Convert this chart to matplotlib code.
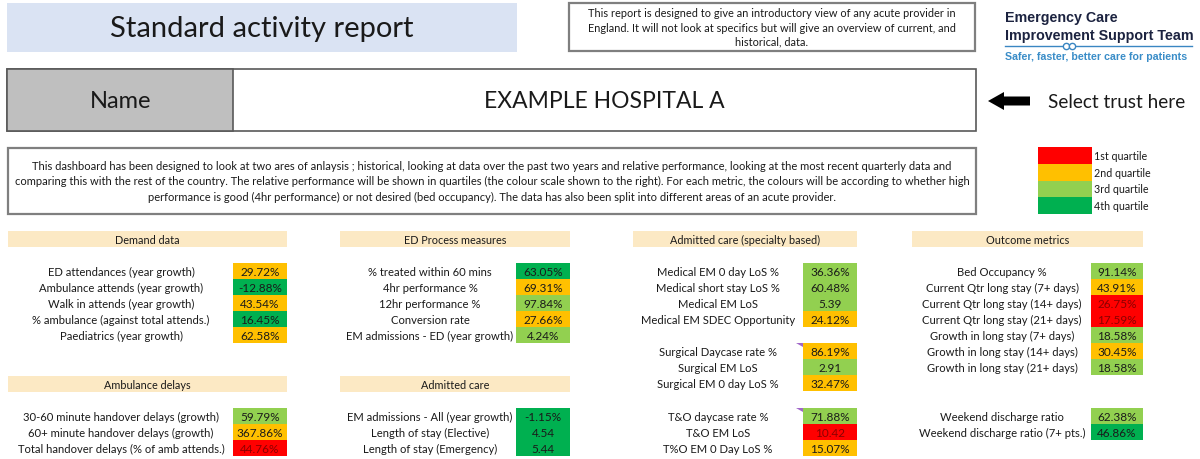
import matplotlib.pyplot as plt
from matplotlib.patches import Rectangle, Polygon

plt.rcParams['font.family'] = ['Lato', 'DejaVu Sans']

# quartile colours (1st .. 4th)
q_colors = {1: '#FF0000', 2: '#FFC000', 3: '#92D050', 4: '#00B050'}
q_labels = ['1st quartile', '2nd quartile', '3rd quartile', '4th quartile']

# ---- data ----
demand_labels = ['ED attendances (year growth)', 'Ambulance attends (year growth)',
                 'Walk in attends (year growth)', '% ambulance (against total attends.)',
                 'Paediatrics (year growth)']
demand_values = ['29.72%', '-12.88%', '43.54%', '16.45%', '62.58%']
demand_q = [2, 4, 2, 4, 2]

amb_labels = ['30-60 minute handover delays (growth)', '60+ minute handover delays (growth)',
              'Total handover delays (% of amb attends.)']
amb_values = ['59.79%', '367.86%', '44.76%']
amb_q = [3, 2, 1]

edp_labels = ['% treated within 60 mins', '4hr performance %', '12hr performance %',
              'Conversion rate', 'EM admissions - ED (year growth)']
edp_values = ['63.05%', '69.31%', '97.84%', '27.66%', '4.24%']
edp_q = [4, 2, 3, 2, 3]

adm_labels = ['EM admissions - All (year growth)', 'Length of stay (Elective)',
              'Length of stay (Emergency)']
adm_values = ['-1.15%', '4.54', '5.44']
adm_q = [4, 4, 4]

med_labels = ['Medical EM 0 day LoS %', 'Medical short stay LoS %', 'Medical EM LoS',
              'Medical EM SDEC Opportunity']
med_values = ['36.36%', '60.48%', '5.39', '24.12%']
med_q = [3, 3, 3, 2]

surg_labels = ['Surgical Daycase rate %', 'Surgical EM LoS', 'Surgical EM 0 day LoS %']
surg_values = ['86.19%', '2.91', '32.47%']
surg_q = [2, 3, 2]

to_labels = ['T&O daycase rate %', 'T&O EM LoS', 'T%O EM 0 Day LoS %']
to_values = ['71.88%', '10.42', '15.07%']
to_q = [3, 1, 2]

out_labels = ['Bed Occupancy %', 'Current Qtr long stay (7+ days)',
              'Current Qtr long stay (14+ days)', 'Current Qtr long stay (21+ days)',
              'Growth in long stay (7+ days)', 'Growth in long stay (14+ days)',
              'Growth in long stay (21+ days)']
out_values = ['91.14%', '43.91%', '26.75%', '17.59%', '18.58%', '30.45%', '18.58%']
out_q = [3, 2, 1, 1, 3, 2, 3]

wk_labels = ['Weekend discharge ratio', 'Weekend discharge ratio (7+ pts.)']
wk_values = ['62.38%', '46.86%']
wk_q = [3, 4]

intro_text = ("This report is designed to give an introductory view of any acute provider in\n"
              "England. It will not look at specifics but will give an overview of current, and\n"
              "historical, data.")
desc_text = ("This dashboard has been designed to look at two ares of anlaysis ; historical, looking at data over the past two years and relative performance, looking at the most recent quarterly data and\n"
             "comparing this with the rest of the country. The relative performance will be shown in quartiles (the colour scale shown to the right). For each metric, the colours will be according to whether high\n"
             "performance is good (4hr performance) or not desired (bed occupancy). The data has also been split into different areas of an acute provider.")

# ---- layout (pixel space) ----
fig = plt.figure(figsize=(12, 4.6), dpi=100)
ax = fig.add_axes([0, 0, 1, 1])
ax.set_xlim(0, 1200)
ax.set_ylim(460, 0)
ax.axis('off')

txt = '#1a1a1a'
border = '#7f7f7f'

# title
ax.add_patch(Rectangle((7, 4), 510, 49, fc='#DAE3F3', ec='none'))
ax.text(262, 29, 'Standard activity report', fontsize=21, ha='center', va='center', color=txt)

# intro box
ax.add_patch(Rectangle((569, 4), 406, 48, fc='white', ec=border, lw=1.6))
ax.text(772, 28, intro_text, fontsize=7.95, ha='center', va='center', color=txt, linespacing=1.35)

# logo
ax.text(1005, 18, 'Emergency Care', fontsize=10.3, fontweight='bold', color='#1c2340',
        family='Liberation Sans', va='center')
ax.text(1005, 36, 'Improvement Support Team', fontsize=10.3, fontweight='bold', color='#1c2340',
        family='Liberation Sans', va='center')
ax.plot([1005, 1192], [46.5, 46.5], color='#3a86c2', lw=1.0)
ax.plot([1066, 1072], [46.5, 46.5], color='#3a86c2', lw=0, marker='o', ms=4.5,
        mfc='white', mec='#3a86c2', mew=1.0)
ax.text(1005, 57, 'Safer, faster, better care for patients', fontsize=7.7, fontweight='bold',
        color='#3a8dc8', family='Liberation Sans', va='center')

# name row
ax.add_patch(Rectangle((7, 70), 969, 62, fc='white', ec='#595959', lw=1.2))
ax.add_patch(Rectangle((7, 70), 226, 62, fc='#BFBFBF', ec='#595959', lw=1.2))
ax.text(121, 102, 'Name', fontsize=17, ha='center', va='center', color=txt)
ax.text(604, 102, 'EXAMPLE HOSPITAL A', fontsize=16.5, ha='center', va='center', color=txt)

# arrow + hint
ax.add_patch(Polygon([(988, 102), (1004, 93), (1004, 97.5), (1030, 97.5),
                      (1030, 106.5), (1004, 106.5), (1004, 111)], closed=True,
                     fc='black', ec='none'))
ax.text(1048, 102, 'Select trust here', fontsize=13.6, ha='left', va='center', color=txt)

# description box
ax.add_patch(Rectangle((8, 149), 968, 66, fc='white', ec=border, lw=1.6))
ax.text(492, 182, desc_text, fontsize=8.05, ha='center', va='center', color=txt, linespacing=1.45)

# quartile legend
for i, lab in enumerate(q_labels):
    y0 = 148 + i * 16.75
    ax.add_patch(Rectangle((1038, y0), 54, 16.75, fc=q_colors[i + 1], ec='none'))
    ax.text(1094, y0 + 8.4, lab, fontsize=7.7, ha='left', va='center', color=txt)

# columns: header x0, x1, label centre, value cell x0, x1
cols = [(8, 287, 121, 233, 287),
        (340, 570, 430, 516, 570),
        (633, 857, 718, 803, 857),
        (912, 1143, 1002, 1091, 1143)]
row_h = 16


def header(col, y0, title):
    hx0, hx1 = cols[col][0], cols[col][1]
    ax.add_patch(Rectangle((hx0, y0), hx1 - hx0, 16, fc='#FCE9C4', ec='none'))
    ax.text((hx0 + hx1) / 2, y0 + 8.5, title, fontsize=7.8, ha='center', va='center', color=txt)


def group(col, y0, labels, values, quart):
    _, _, lc, vx0, vx1 = cols[col]
    for i, (lab, val, q) in enumerate(zip(labels, values, quart)):
        y = y0 + i * row_h
        ax.add_patch(Rectangle((vx0, y), vx1 - vx0, row_h, fc=q_colors[q], ec='none'))
        ax.text(lc, y + row_h / 2 + 0.5, lab, fontsize=8.1, ha='center', va='center', color=txt)
        ax.text((vx0 + vx1) / 2, y + row_h / 2 + 0.5, val, fontsize=8.5, ha='center',
                va='center', color='#8B0000' if q == 1 else txt)


def comment_mark(col, y0):
    x = cols[col][3]
    ax.add_patch(Polygon([(x - 7, y0), (x, y0), (x, y0 + 4)], closed=True,
                         fc='#A066C8', ec='none'))


header(0, 232, 'Demand data')
group(0, 264, demand_labels, demand_values, demand_q)
header(0, 377, 'Ambulance delays')
group(0, 409, amb_labels, amb_values, amb_q)

header(1, 232, 'ED Process measures')
group(1, 264, edp_labels, edp_values, edp_q)
header(1, 377, 'Admitted care')
group(1, 409, adm_labels, adm_values, adm_q)

header(2, 232, 'Admitted care (specialty based)')
group(2, 264, med_labels, med_values, med_q)
group(2, 344, surg_labels, surg_values, surg_q)
group(2, 409, to_labels, to_values, to_q)
comment_mark(2, 344)
comment_mark(2, 409)

header(3, 232, 'Outcome metrics')
group(3, 264, out_labels, out_values, out_q)
group(3, 409, wk_labels, wk_values, wk_q)

fig.savefig('out.png', dpi=100)
